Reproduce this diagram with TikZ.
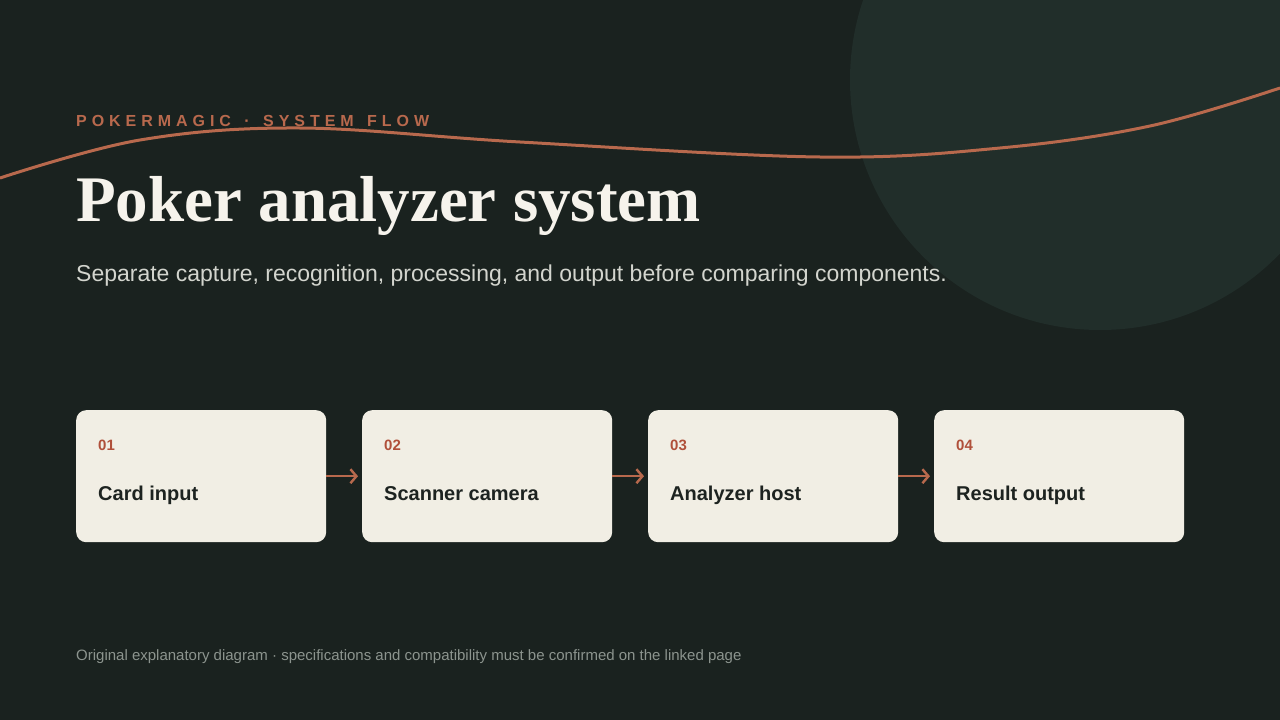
\documentclass[tikz,border=0pt]{standalone}
\usepackage{fontspec}
\setmainfont{Liberation Sans}
\newfontfamily\titlefont{Liberation Serif}
\usetikzlibrary{positioning,arrows.meta}

\definecolor{bgdark}{HTML}{1A221F}
\definecolor{disc}{HTML}{212E2A}
\definecolor{copper}{HTML}{B8694D}
\definecolor{cream}{HTML}{F1EEE4}
\definecolor{numred}{HTML}{B0503A}
\definecolor{ink}{HTML}{1D2320}
\definecolor{subtext}{HTML}{D3D5CE}
\definecolor{foot}{HTML}{8C948E}
\definecolor{titlewhite}{HTML}{F6F3EC}

\begin{document}
\begin{tikzpicture}[
        x=1pt, y=-1pt,
        >={Straight Barb[length=6pt, width=14pt]},
        card/.style={fill=cream, rounded corners=10pt, minimum width=250pt,
                     minimum height=132pt, inner sep=0pt, anchor=north west},
        cardnum/.style={font=\bfseries\fontsize{15}{18}\selectfont, text=numred,
                        anchor=base west, inner sep=0pt},
        cardtext/.style={font=\bfseries\fontsize{20}{24}\selectfont, text=ink,
                         anchor=base west, inner sep=0pt},
        flow/.style={->, copper, line width=2.4pt, shorten >=4pt},
        label/.style={anchor=base west, inner sep=0pt}
    ]
    % Pozadí
    \useasboundingbox (0,0) rectangle (1280,720);
    \fill[bgdark] (0,0) rectangle (1280,720);
    
    % Kruh a vlnovka
    \begin{scope}
        \clip (0,0) rectangle (1280,720);
        \fill[disc] (1100,80) circle[radius=250pt];
        \draw[copper, line width=3pt] plot[smooth, tension=0.6] coordinates
            {(0,178) (140,140) (300,128) (520,142) (820,157) (1000,148) (1150,126) (1280,88)};
    \end{scope}
    
    % Nadpisy
    \node[label, text=copper,
          font=\bfseries\fontsize{16}{19}\selectfont\addfontfeatures{LetterSpace=31}]
        (kicker) at (76,126) {POKERMAGIC \hspace{4pt}·\hspace{4pt} SYSTEM \hspace{4pt}FLOW};
    \node[label, text=titlewhite, font=\titlefont\bfseries\fontsize{65}{70}\selectfont]
        (title) at (76,221) {Poker analyzer system};
    \node[label, text=subtext, font=\fontsize{23}{27}\selectfont]
        (subtitle) at (76,281) {Separate capture, recognition, processing, and output before comparing components.};
    
    % Karty
    \foreach \i/\name in {1/Card input, 2/Scanner camera, 3/Analyzer host, 4/Result output} {
        \node[card] (card\i) at ({76+286*(\i-1)},410) {};
        \node[cardnum] (num\i) at ([shift={(22,40)}]card\i.north west) {0\i};
        \node[cardtext] (name\i) at ([shift={(22,90)}]card\i.north west) {\name};
    }
    
    % Šipky mezi kartami
    \foreach \i/\j in {1/2, 2/3, 3/4}
        \draw[flow] (card\i) -- (card\j);
    
    % Poznámka dole
    \node[label, text=foot, font=\fontsize{15}{18}\selectfont]
        (footnote) at (76,660) {Original explanatory diagram · specifications and compatibility must be confirmed on the linked page};
    
\end{tikzpicture}
\end{document}
